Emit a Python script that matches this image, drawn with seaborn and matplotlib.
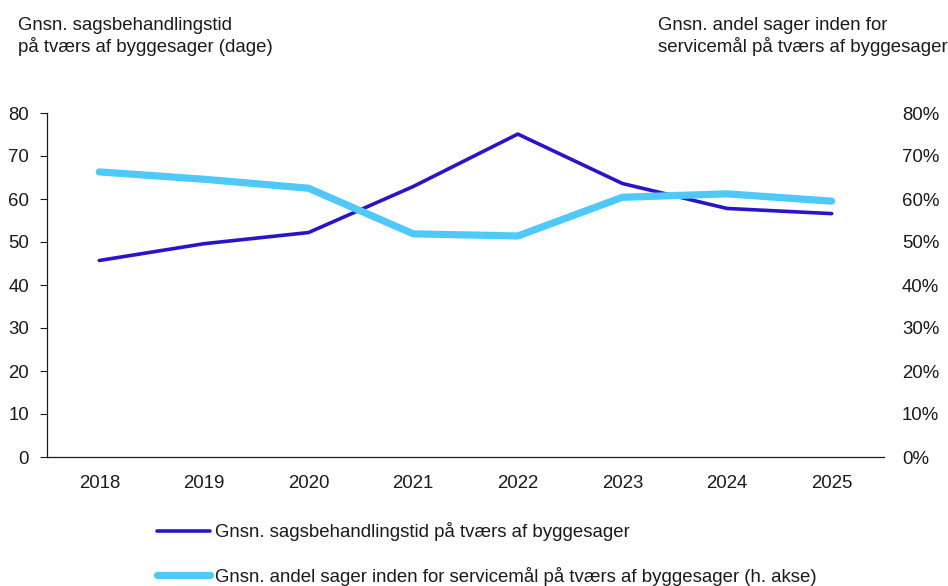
import matplotlib
matplotlib.use("Agg")
import matplotlib.pyplot as plt
from matplotlib.ticker import FixedLocator, PercentFormatter
import seaborn as sns
import pandas as pd

years = ["2018", "2019", "2020", "2021", "2022", "2023", "2024", "2025"]
days = [45.7, 49.6, 52.2, 62.9, 75.1, 63.6, 57.8, 56.6]
share = [66.3, 64.6, 62.5, 51.9, 51.4, 60.4, 61.2, 59.5]

label_days = "Gnsn. sagsbehandlingstid på tværs af byggesager"
label_share = "Gnsn. andel sager inden for servicemål på tværs af byggesager (h. akse)"

dark = "#2A14C9"
light = "#4FC9FA"
ink = "#1a1a1a"
fs = 13.4

df = pd.DataFrame({"year": years, "days": days, "share": share})

sns.set_theme(style="white")
plt.rcParams["font.family"] = ["Liberation Sans", "DejaVu Sans"]
plt.rcParams["font.size"] = fs
plt.rcParams["text.color"] = ink

fig = plt.figure(figsize=(9.48, 5.86), dpi=100)
ax = fig.add_axes([47 / 948, 1 - 457 / 586, 837 / 948, 344 / 586])
ax2 = ax.twinx()

sns.lineplot(data=df, x="year", y="days", ax=ax, color=dark, linewidth=2.6,
             solid_capstyle="round", label=label_days, legend=False)
sns.lineplot(data=df, x="year", y="share", ax=ax2, color=light, linewidth=5.2,
             solid_capstyle="round", label=label_share, legend=False)

ax.set_xlim(-0.5, len(years) - 0.5)
ax.set_ylim(0, 80)
ax2.set_ylim(0, 80)
ax.set_yticks(range(0, 81, 10))
ax2.set_yticks(range(0, 81, 10))
ax2.yaxis.set_major_formatter(PercentFormatter(decimals=0))

ax.xaxis.set_minor_locator(FixedLocator([i - 0.5 for i in range(len(years) + 1)]))
ax.tick_params(axis="x", which="major", length=0, pad=13, labelsize=fs, colors=ink)
ax.tick_params(axis="x", which="minor", length=6, width=0.8, color=ink, direction="out")
ax.tick_params(axis="y", length=5, width=0.8, color=ink, pad=8, labelsize=fs,
               labelcolor=ink, left=True)
ax2.tick_params(axis="y", length=0, pad=13, labelsize=fs, labelcolor=ink)

ax.set_xlabel("")
ax.set_ylabel("")
ax2.set_ylabel("")
for a in (ax, ax2):
    a.grid(False)
    for s in ("top", "right"):
        a.spines[s].set_visible(False)
ax2.spines["left"].set_visible(False)
ax2.spines["bottom"].set_visible(False)
for s in ("left", "bottom"):
    ax.spines[s].set_color(ink)
    ax.spines[s].set_linewidth(0.9)

fig.text(18 / 948, 1 - 17 / 586, "Gnsn. sagsbehandlingstid\npå tværs af byggesager (dage)",
         ha="left", va="top", fontsize=fs, linespacing=1.2)
fig.text(658 / 948, 1 - 17 / 586, "Gnsn. andel sager inden for\nservicemål på tværs af byggesager",
         ha="left", va="top", fontsize=fs, linespacing=1.2)

h1, l1 = ax.get_legend_handles_labels()
h2, l2 = ax2.get_legend_handles_labels()
fig.legend(h1 + h2, l1 + l2, loc="center left", bbox_to_anchor=(157 / 948, 1 - 554 / 586),
           frameon=False, handlelength=2.85, handletextpad=0.25, labelspacing=1.35,
           borderpad=0, borderaxespad=0, fontsize=fs)

fig.savefig("out.png", dpi=100)
